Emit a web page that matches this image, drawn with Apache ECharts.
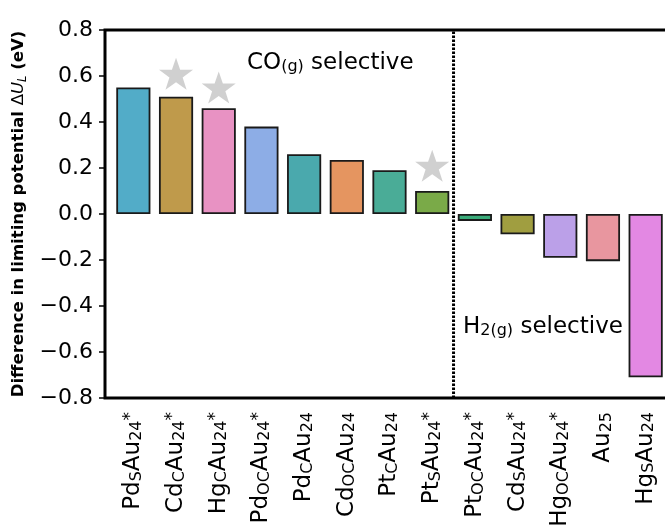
<!DOCTYPE html>
<html>
<head>
<meta charset="utf-8">
<script src="https://cdn.jsdelivr.net/npm/echarts@6/dist/echarts.min.js"></script>
<style>
  html, body { margin: 0; padding: 0; background: #fff; }
  #chart { width: 665px; height: 529px; }
</style>
</head>
<body>
<div id="chart"></div>
<script>
// category labels (rich text markup: s = subscript, u = superscript)
var categories = [
  'Pd{s|S}Au{s|24}{u|*}', 'Cd{s|C}Au{s|24}{u|*}', 'Hg{s|C}Au{s|24}{u|*}', 'Pd{s|OC}Au{s|24}{u|*}',
  'Pd{s|C}Au{s|24}', 'Cd{s|OC}Au{s|24}', 'Pt{s|C}Au{s|24}', 'Pt{s|S}Au{s|24}{u|*}',
  'Pt{s|OC}Au{s|24}{u|*}', 'Cd{s|S}Au{s|24}{u|*}', 'Hg{s|OC}Au{s|24}{u|*}', 'Au{s|25}', 'Hg{s|S}Au{s|24}'
];
var deltaUL = [0.55, 0.51, 0.46, 0.38, 0.26, 0.235, 0.19, 0.10, -0.03, -0.088, -0.19, -0.205, -0.71];
var barColors = [
  '#52acc8', '#bf9a4b', '#e892c3', '#8dade6', '#4aa9ad', '#e59560', '#4aac97',
  '#7aaa48', '#3aac7a', '#a09e40', '#bba0e8', '#e8969f', '#e388e3'
];
// grey stars marking selected clusters
var starValues = ['-', 0.61, 0.55, '-', '-', '-', '-', 0.21, '-', '-', '-', '-', '-'];
// position of the dotted divider between the two regimes
var dividerX = 7.5;
var yTicks = { min: -0.8, max: 0.8, interval: 0.2 };

var font = 'DejaVu Sans';
// frame starts a bit left of the first bar band (matplotlib margin)
var frameL = 105, plotL = 112, gridT = 30, gridB = 131, gridR = -2;

var chart = echarts.init(document.getElementById('chart'), null, { renderer: 'canvas' });

var starPath = 'path://M50,2 L61.5,36 L97.5,36 L68.5,57.5 L79.5,92 L50,71 L20.5,92 L31.5,57.5 L2.5,36 L38.5,36 Z';

chart.setOption({
  animation: false,
  backgroundColor: '#fff',
  grid: [
    { left: frameL, right: gridR, top: gridT, bottom: gridB, containLabel: false, outerBoundsMode: 'none' },
    { left: plotL, right: gridR, top: gridT, bottom: gridB, containLabel: false, outerBoundsMode: 'none' }
  ],
  xAxis: [{
    gridIndex: 0, type: 'value', min: 0, max: 1, show: false
  }, {
    gridIndex: 1,
    type: 'category',
    data: categories,
    axisLine: { show: false, onZero: false },
    axisTick: { alignWithLabel: true, length: 6, lineStyle: { color: '#000', width: 1.5 } },
    axisLabel: {
      rotate: 90, interval: 0, margin: 14, color: '#000',
      fontFamily: font, fontSize: 23, lineHeight: 23,
      rich: {
        s: { fontFamily: font, fontSize: 16, lineHeight: 6, verticalAlign: 'bottom', color: '#000' },
        u: { fontFamily: font, fontSize: 17, lineHeight: 16, verticalAlign: 'top', color: '#000' }
      }
    },
    splitLine: { show: false }
  }, {
    gridIndex: 1, type: 'value', min: -0.5, max: 12.5, show: false
  }],
  yAxis: [{
    gridIndex: 0,
    type: 'value',
    min: yTicks.min, max: yTicks.max, interval: yTicks.interval,
    axisLine: { show: false, onZero: false },
    axisTick: { show: true, inside: false, length: 6, lineStyle: { color: '#000', width: 1.5 } },
    axisLabel: {
      color: '#000', fontFamily: font, fontSize: 22, margin: 12,
      formatter: function (v) { return v.toFixed(1).replace('-', '\u2212'); }
    },
    splitLine: { show: false },
    name: '{b|Difference in limiting potential }{m|\u0394}{i|U}{l|L}{b| (eV)}',
    nameLocation: 'middle',
    nameGap: 74,
    nameTextStyle: {
      rich: {
        b: { fontFamily: font, fontWeight: 'bold', fontSize: 16.5, lineHeight: 20, color: '#000' },
        m: { fontFamily: font, fontSize: 16.5, lineHeight: 20, color: '#000' },
        i: { fontFamily: font, fontStyle: 'italic', fontSize: 16.5, lineHeight: 20, color: '#000' },
        l: { fontFamily: font, fontStyle: 'italic', fontSize: 11.5, lineHeight: 6, verticalAlign: 'bottom', color: '#000' }
      }
    }
  }, {
    gridIndex: 1,
    type: 'value',
    min: yTicks.min, max: yTicks.max, interval: yTicks.interval,
    show: false
  }],
  series: [{
    type: 'bar',
    xAxisIndex: 1, yAxisIndex: 1,
    barWidth: '80%',
    data: deltaUL.map(function (v, i) {
      return { value: v, itemStyle: { color: barColors[i] } };
    }),
    itemStyle: { borderColor: '#1a1a1a', borderWidth: 1.8 },
    z: 2
  }, {
    type: 'scatter',
    xAxisIndex: 1, yAxisIndex: 1,
    data: starValues,
    symbol: starPath,
    symbolSize: [34, 32],
    itemStyle: { color: '#c4c4c4' },
    z: 3
  }, {
    type: 'line',
    xAxisIndex: 2, yAxisIndex: 1,
    data: [[dividerX, yTicks.min], [dividerX, yTicks.max]],
    symbol: 'none',
    lineStyle: { color: '#000', width: 3, type: [2.5, 1.5] },
    z: 4
  }],
  graphic: [{
    type: 'rect',
    shape: { x: frameL, y: gridT, width: 600, height: 529 - gridB - gridT },
    style: { fill: 'none', stroke: '#000', lineWidth: 3 },
    z: 100, silent: true
  }, {
    type: 'text',
    x: 247, y: 63,
    style: {
      text: 'CO{s|(g)} selective',
      fontFamily: font, fontSize: 23, lineHeight: 23, fill: '#000',
      verticalAlign: 'middle',
      rich: { s: { fontFamily: font, fontSize: 16, lineHeight: 6, verticalAlign: 'bottom', fill: '#000' } }
    }
  }, {
    type: 'text',
    x: 463, y: 327,
    style: {
      text: 'H{s|2(g)} selective',
      fontFamily: font, fontSize: 23, lineHeight: 23, fill: '#000',
      verticalAlign: 'middle',
      rich: { s: { fontFamily: font, fontSize: 16, lineHeight: 6, verticalAlign: 'bottom', fill: '#000' } }
    }
  }]
});
</script>
</body>
</html>
